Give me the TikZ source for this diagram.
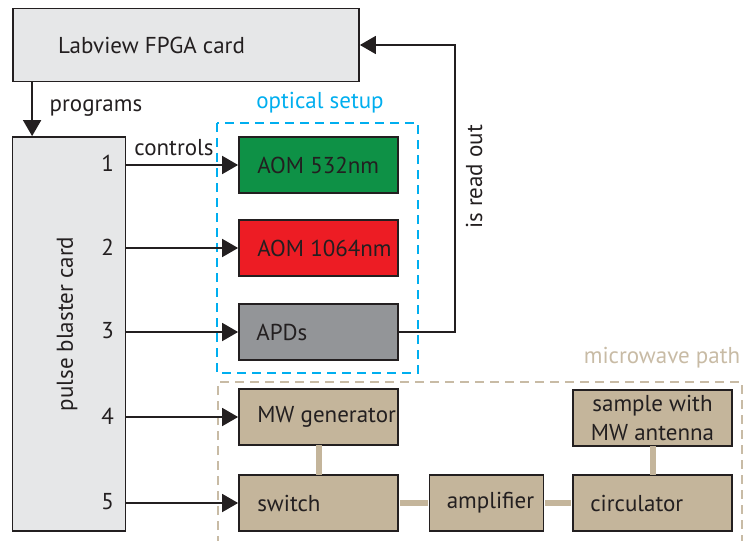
\documentclass[tikz,border=0pt]{standalone}
\usepackage{fontspec}
\setmainfont{PT Sans}
\usetikzlibrary{arrows.meta}
\definecolor{ink}{RGB}{35,31,32}
\definecolor{cardgrey}{RGB}{230,231,232}
\definecolor{aomgreen}{RGB}{14,145,70}
\definecolor{aomred}{RGB}{237,28,36}
\definecolor{apdgrey}{RGB}{147,149,152}
\definecolor{tan}{RGB}{196,181,155}
\definecolor{tandash}{RGB}{200,187,165}
\definecolor{optblue}{RGB}{0,174,239}
\tikzset{
  box/.style={draw=ink, line width=1.8pt, inner sep=0pt, minimum height=56pt},
  lab/.style={text=ink, inner sep=0pt, font=\fontsize{23}{27}\selectfont},
  arr/.style={draw=ink, line width=1.8pt, -{Triangle[length=16pt, width=18pt]}},
  conn/.style={draw=tan, line width=6pt},
  grp/.style={line width=1.8pt, dash pattern=on 9pt off 6pt},
}
\begin{document}
\begin{tikzpicture}[x=1pt, y=-1pt]
\useasboundingbox (0,0) rectangle (743,540);
% group frames
\draw[grp, optblue] (217,123) rectangle (418,373);
\draw[grp, tandash] (218,560) -- (218,382) -- (742,382) -- (742,560);
\node[lab, text=optblue] (optlab) at (320,103) {optical setup};
\node[lab, text=tandash] (mwlab) at (662,358) {microwave path};
% cards
\node[box, fill=cardgrey, minimum width=346pt, minimum height=73pt] (lv) at (186,45) {};
\node[lab, anchor=west] (lvt) at (58,45) {Labview FPGA card};
\node[box, fill=cardgrey, minimum width=113pt, minimum height=394pt] (pb) at (69,334) {};
\node[lab, rotate=90] (pbt) at (67,324) {pulse blaster card};
% optical boxes
\node[box, fill=aomgreen, minimum width=159pt] (aoma) at (318.5,165) {};
\node[box, fill=aomred, minimum width=159pt] (aomb) at (318.5,248) {};
\node[box, fill=apdgrey, minimum width=159pt] (apd) at (318.5,332) {};
% microwave boxes
\node[box, fill=tan, minimum width=159pt] (mwg) at (318.5,417) {};
\node[box, fill=tan, minimum width=159pt] (sw) at (318.5,503) {};
\node[box, fill=tan, minimum width=114pt] (amp) at (486.5,503) {};
\node[box, fill=tan, minimum width=159pt] (circ) at (652.5,503) {};
\node[box, fill=tan, minimum width=159pt] (samp) at (652.5,418) {};
% box texts
\node[lab, anchor=west] (aomat) at ([xshift=19pt]aoma.west) {AOM 532nm};
\node[lab, anchor=west] (aombt) at ([xshift=19pt]aomb.west) {AOM 1064nm};
\node[lab, anchor=west] (apdt) at ([xshift=18pt]apd.west) {APDs};
\node[lab, anchor=west] (mwgt) at ([xshift=19pt]mwg.west) {MW generator};
\node[lab, anchor=west] (swt) at ([xshift=19pt]sw.west) {switch};
\node[lab, anchor=west] (ampt) at ([xshift=18pt]amp.west) {amplifier};
\node[lab, anchor=west] (circt) at ([xshift=18pt]circ.west) {circulator};
\node[lab, align=center, font=\fontsize{23}{29}\selectfont] (sampt) at (samp.center) {sample with\\MW antenna};
% tan connections
\draw[conn] ([yshift=1pt]mwg.south) -- ([yshift=-1pt]sw.north);
\draw[conn] ([xshift=1pt]sw.east) -- ([xshift=-1pt]amp.west);
\draw[conn] ([xshift=1pt]amp.east) -- ([xshift=-1pt]circ.west);
\draw[conn] ([yshift=1pt]samp.south) -- ([yshift=-1pt]circ.north);
% channel arrows
\foreach \n/\t in {n1/aoma, n2/aomb, n3/apd, n4/mwg, n5/sw}{
  \coordinate (\n) at (pb.east |- \t.west);
  \draw[arr] (\n) -- (\t.west);
}
\node[lab, anchor=east] (l1) at (114,163) {1};
\node[lab, anchor=east] (l2) at (114,247) {2};
\node[lab, anchor=east] (l3) at (114,331) {3};
\node[lab, anchor=east] (l4) at (114,416) {4};
\node[lab, anchor=east] (l5) at (114,502) {5};
\node[lab] (ctl) at (174,148) {controls};
% programs
\coordinate (pgtop) at ([xshift=20pt]lv.south west);
\draw[arr] (pgtop) -- (pgtop |- pb.north);
\node[lab] (pgl) at (96,108) {programs};
% read out
\coordinate (rdx) at (455,200);
\draw[arr] (apd.east) -| (rdx) |- (lv.east);
\node[lab, rotate=90] (rdl) at (474,177) {is read out};
\end{tikzpicture}
\end{document}
